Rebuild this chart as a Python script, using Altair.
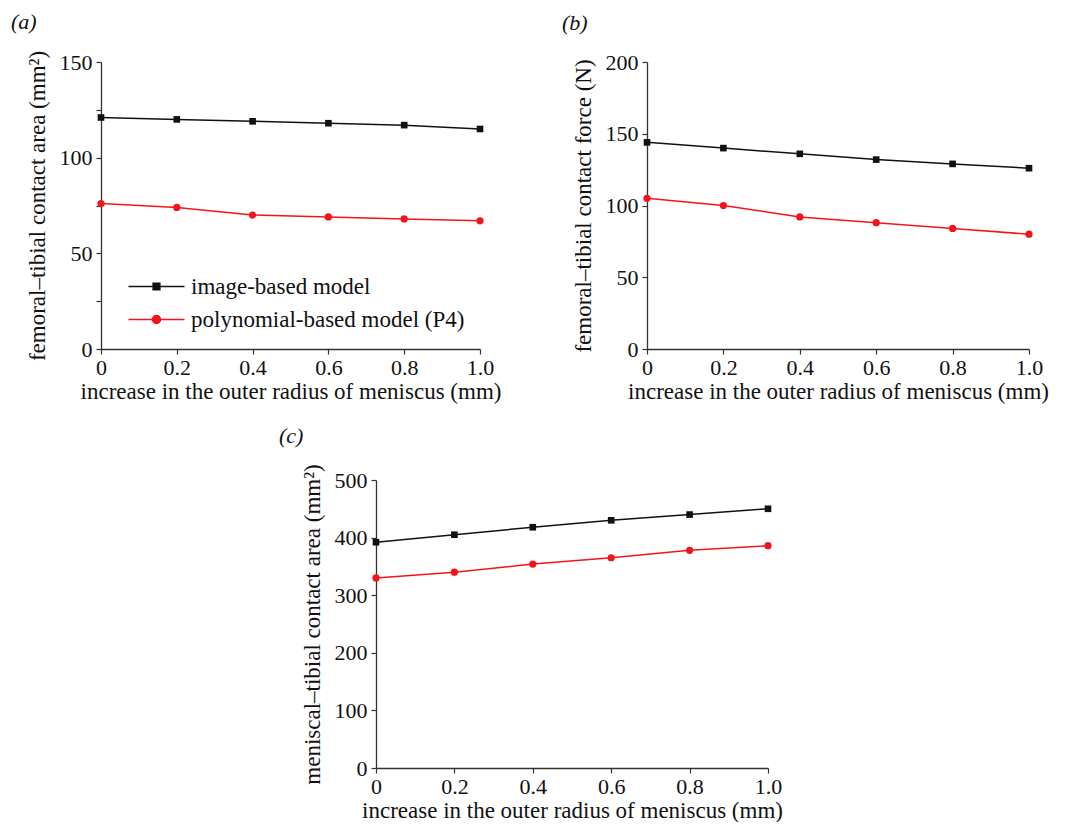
import altair as alt
import pandas as pd

# ---------------- data ----------------
x_vals = [0.0, 0.2, 0.4, 0.6, 0.8, 1.0]
series_names = ["image-based model", "polynomial-based model (P4)"]

a_image = [121, 120, 119, 118, 117, 115]
a_poly = [76, 74, 70, 69, 68, 67]

b_image = [144, 140, 136, 132, 129, 126]
b_poly = [105, 100, 92, 88, 84, 80]

c_image = [392, 405, 418, 430, 440, 450]
c_poly = [330, 340, 354, 365, 378, 386]

x_ticks = [0.0, 0.1, 0.2, 0.3, 0.4, 0.5, 0.6, 0.7, 0.8, 0.9, 1.0]
a_y_ticks = [0, 25, 50, 75, 100, 125, 150]
b_y_ticks = [0, 25, 50, 75, 100, 125, 150, 175, 200]
c_y_ticks = [0, 50, 100, 150, 200, 250, 300, 350, 400, 450, 500]

line_colors = ["#111111", "#f2141c"]
FONT = "Liberation Serif"

# legend symbols: short line with the marker in the middle
legend_shapes = [
    "M-3.5,0H3.5M-0.42,-0.42H0.42V0.42H-0.42Z",
    "M-3.5,0H3.5M-0.5,0A0.5,0.5 0 1,0 0.5,0A0.5,0.5 0 1,0 -0.5,0Z",
]


def make_df(img, poly):
    rows = []
    for xv, v in zip(x_vals, img):
        rows.append({"x": xv, "y": v, "series": series_names[0]})
    for xv, v in zip(x_vals, poly):
        rows.append({"x": xv, "y": v, "series": series_names[1]})
    return pd.DataFrame(rows)


x_label_expr = ("datum.value == 0 ? '0' : (round(datum.value * 10) % 2 == 0 ? "
                "format(datum.value, '.1f') : '')")


def panel(df, y_ticks, y_max, y_step_label, y_title, tag, width, height,
          tag_dx, tag_offset, legend=False):
    x_enc = alt.X(
        "x:Q",
        scale=alt.Scale(domain=[0, 1], nice=False, zero=False),
        axis=alt.Axis(
            values=x_ticks,
            labelExpr=x_label_expr,
            title="increase in the outer radius of meniscus (mm)",
            grid=False,
            tickSize=5,
            labelPadding=3,
            titlePadding=2,
            labelFlush=False,
            labelOverlap=False,
        ),
    )
    y_label_expr = f"datum.value % {y_step_label} == 0 ? format(datum.value, 'd') : ''"
    y_enc = alt.Y(
        "y:Q",
        scale=alt.Scale(domain=[0, y_max], nice=False),
        axis=alt.Axis(
            values=y_ticks,
            labelExpr=y_label_expr,
            title=y_title,
            grid=False,
            tickSize=5,
            labelPadding=4,
            titlePadding=10,
            labelFlush=False,
            labelOverlap=False,
        ),
    )
    base = alt.Chart(df)
    img = base.transform_filter(alt.datum.series == series_names[0])
    pol = base.transform_filter(alt.datum.series == series_names[1])
    line_img = img.mark_line(strokeWidth=1.5, color=line_colors[0]).encode(x=x_enc, y=y_enc)
    line_pol = pol.mark_line(strokeWidth=1.5, color=line_colors[1]).encode(x="x:Q", y="y:Q")
    sq = img.mark_square(size=44, opacity=1, color=line_colors[0]).encode(x="x:Q", y="y:Q")
    ci = pol.mark_circle(size=52, opacity=1, color=line_colors[1]).encode(x="x:Q", y="y:Q")
    layers = [line_img, line_pol, sq, ci]
    if legend:
        leg = alt.Legend(
            title=None,
            orient="none",
            legendX=44,
            legendY=213,
            labelFont=FONT,
            labelFontSize=23,
            labelColor="#111111",
            symbolSize=256,
            symbolStrokeWidth=1.5,
            symbolOpacity=1,
            labelOffset=23,
            rowPadding=9,
            labelLimit=400,
        )
        lg = base.transform_filter(alt.datum.x < -1).mark_point(
            filled=False, size=256, opacity=1
        ).encode(
            x="x:Q", y="y:Q",
            shape=alt.Shape("series:N", scale=alt.Scale(domain=series_names, range=legend_shapes), legend=leg),
            fill=alt.Fill("series:N", scale=alt.Scale(domain=series_names, range=line_colors), legend=leg),
            stroke=alt.Stroke("series:N", scale=alt.Scale(domain=series_names, range=line_colors), legend=leg),
        )
        layers.append(lg)
    ch = alt.layer(*layers).properties(
        width=width,
        height=height,
        title=alt.TitleParams(
            tag, anchor="start", frame="bounds", font=FONT, fontSize=22,
            fontStyle="italic", fontWeight="normal", color="#111111",
            dx=tag_dx, offset=tag_offset,
        ),
    )
    return ch


pa = panel(make_df(a_image, a_poly), a_y_ticks, 150, 50,
           "femoral–tibial contact area (mm²)", "(a)", 379, 287, -15, 16, legend=True)
pb = panel(make_df(b_image, b_poly), b_y_ticks, 200, 50,
           "femoral–tibial contact force (N)", "(b)", 382, 287, -10, 16)
pc = panel(make_df(c_image, c_poly), c_y_ticks, 500, 100,
           "meniscal–tibial contact area (mm²)", "(c)", 392, 288, -22, 16)

spacer = alt.Chart(pd.DataFrame({"s": [0]})).mark_point(opacity=0).encode(
    x=alt.X("s:Q", axis=None), y=alt.Y("s:Q", axis=None)
).properties(width=157, height=10)

top = alt.hconcat(pa, pb, spacing=60)
bottom = alt.hconcat(spacer, pc, spacing=20)

chart = alt.vconcat(top, bottom, spacing=21).properties(
    padding={"left": 2, "top": 3, "right": 0, "bottom": 0},
    background="white",
).configure_view(strokeWidth=0).configure_axis(
    labelFont=FONT, titleFont=FONT, labelFontSize=22, titleFontSize=23,
    titleFontWeight="normal", labelColor="#111111", titleColor="#111111",
    domainColor="#333333", tickColor="#333333", domainWidth=1.3, tickWidth=1.2,
)

chart.save("out.html", embed_options={"renderer": "svg", "actions": False})
